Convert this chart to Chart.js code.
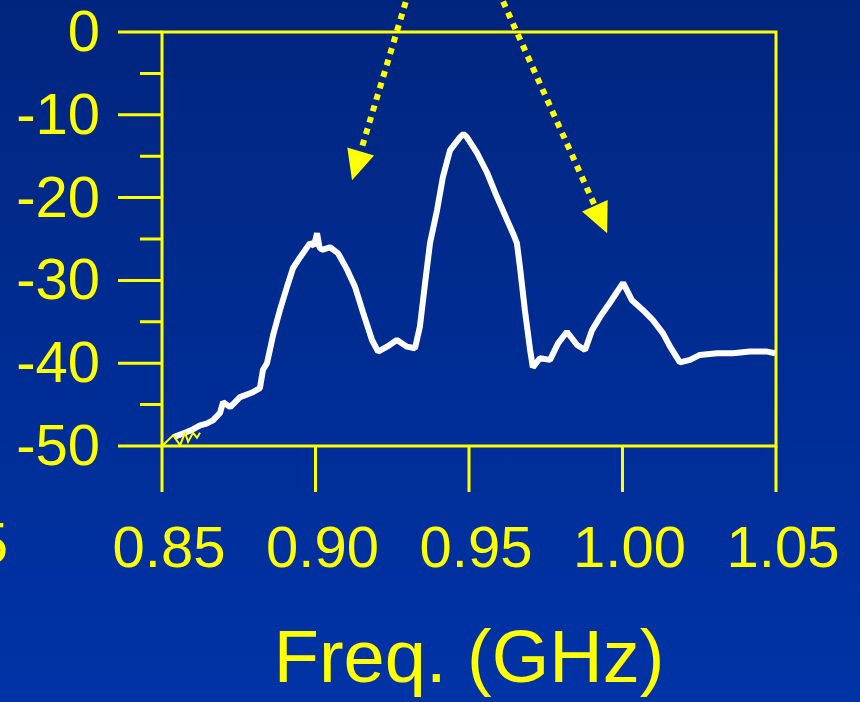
<!DOCTYPE html>
<html>
<head>
<meta charset="utf-8">
<script src="https://cdn.jsdelivr.net/npm/chart.js@4/dist/chart.umd.min.js"></script>
<style>
    html, body { margin: 0; padding: 0; }
    body {
        width: 860px; height: 702px; overflow: hidden;
        background: linear-gradient(to bottom, #00257e 0%, #002d95 55%, #0033a6 100%);
    }
    canvas { display: block; }
</style>
</head>
<body>
<canvas id="spectrumChart" width="860" height="702"></canvas>
<script>
// ==================== DATA ====================
// measured trace, frequency in GHz and level in dB
const freqs = [
    0.8540, 0.8581, 0.8600, 0.8624, 0.8645, 0.8666, 0.8689, 0.8699, 0.8722, 0.8754,
    0.8796, 0.8819, 0.8829, 0.8842, 0.8862, 0.8884, 0.8907, 0.8927, 0.8950, 0.8982,
    0.8995, 0.9005, 0.9013, 0.9021, 0.9047, 0.9073, 0.9103, 0.9129, 0.9155, 0.9184,
    0.9204, 0.9233, 0.9265, 0.9298, 0.9324, 0.9340, 0.9357, 0.9373, 0.9396, 0.9415,
    0.9438, 0.9471, 0.9482, 0.9493, 0.9526, 0.9559, 0.9591, 0.9624, 0.9643, 0.9656,
    0.9666, 0.9682, 0.9699, 0.9708, 0.9731, 0.9764, 0.9790, 0.9819, 0.9852, 0.9878,
    0.9901, 0.9927, 0.9959, 0.9982, 1.0002, 1.0031, 1.0067, 1.0099, 1.0132, 1.0155,
    1.0187, 1.0220, 1.0252, 1.0308, 1.0360, 1.0415, 1.0471, 1.0497
];
const levels = [
    -48.9, -48.3, -48.0, -47.5, -47.3, -46.9, -46.0, -44.7, -45.3, -44.1,
    -43.5, -43.0, -40.8, -40.0, -36.6, -33.6, -30.8, -28.5, -27.2, -25.5,
    -25.8, -24.3, -26.0, -26.3, -26.0, -26.7, -28.7, -30.8, -33.9, -37.2,
    -38.6, -38.0, -37.2, -38.0, -38.2, -35.6, -30.3, -25.5, -21.5, -17.5,
    -14.3, -12.7, -12.3, -12.7, -14.6, -17.0, -19.9, -22.7, -24.3, -25.5,
    -28.4, -33.6, -38.4, -40.5, -39.4, -39.6, -37.6, -36.2, -37.8, -38.4,
    -36.0, -34.4, -32.7, -31.4, -30.3, -32.4, -33.6, -34.8, -36.4, -38.0,
    -39.9, -39.6, -39.0, -38.8, -38.8, -38.6, -38.6, -38.8
];
// yellow start of the trace near the noise floor
const floorFreqs = [0.8503, 0.8536, 0.8559, 0.8575, 0.8585, 0.8601, 0.8614, 0.8624];
const floorLevels = [-49.9, -48.7, -49.9, -48.4, -49.5, -48.4, -49.0, -48.4];

// axis ranges and tick steps
const freqRange = [0.85, 1.05];
const freqStep = 0.05;
const levelRange = [-50, 0];
const levelStep = 5;
const xTitle = 'Freq. (GHz)';

// dotted arrows (start and tip, in GHz / dB)
const arrowStarts = [[0.9305, 5.0], [0.9595, 5.0]];
const arrowTips = [[0.9119, -17.9], [0.9950, -24.3]];

const YELLOW = '#ffff00';
const FONT = 'Liberation Sans, Arial, Helvetica, sans-serif';

// ==================== PLUGINS ====================
const frameTicks = {
    id: 'frameTicks',
    beforeDatasetsDraw(chart) {
        const ctx = chart.ctx;
        const a = chart.chartArea;
        const xs = chart.scales.x, ys = chart.scales.y;
        ctx.save();
        ctx.strokeStyle = YELLOW;
        ctx.lineWidth = 3;
        ctx.strokeRect(a.left, a.top, a.right - a.left, a.bottom - a.top);
        ctx.beginPath();
        ys.ticks.forEach(t => {
            const py = ys.getPixelForValue(t.value);
            const len = Math.round(t.value) % 10 === 0 ? 44 : 22;
            ctx.moveTo(a.left - len, py);
            ctx.lineTo(a.left, py);
        });
        xs.ticks.forEach(t => {
            const px = xs.getPixelForValue(t.value);
            ctx.moveTo(px, a.bottom);
            ctx.lineTo(px, a.bottom + 46);
        });
        ctx.stroke();
        // cut-off label from the neighbouring plot on the slide
        ctx.fillStyle = YELLOW;
        ctx.font = '58px ' + FONT;
        ctx.textAlign = 'right';
        ctx.textBaseline = 'middle';
        ctx.fillText('1.05', 8, 547);
        ctx.restore();
    }
};

const arrows = {
    id: 'arrows',
    afterDatasetsDraw(chart) {
        const ctx = chart.ctx;
        const xs = chart.scales.x, ys = chart.scales.y;
        ctx.save();
        ctx.strokeStyle = YELLOW;
        ctx.fillStyle = YELLOW;
        arrowStarts.forEach((s, i) => {
            const x0 = xs.getPixelForValue(s[0]), y0 = ys.getPixelForValue(s[1]);
            const x1 = xs.getPixelForValue(arrowTips[i][0]), y1 = ys.getPixelForValue(arrowTips[i][1]);
            const len = Math.hypot(x1 - x0, y1 - y0);
            const ux = (x1 - x0) / len, uy = (y1 - y0) / len;
            const headLen = 30, headHalf = 14;
            const bx = x1 - ux * headLen, by = y1 - uy * headLen;
            ctx.lineWidth = 6;
            ctx.setLineDash([6, 6]);
            ctx.beginPath();
            ctx.moveTo(x0, y0);
            ctx.lineTo(bx, by);
            ctx.stroke();
            ctx.setLineDash([]);
            ctx.beginPath();
            ctx.moveTo(x1, y1);
            ctx.lineTo(bx - uy * headHalf, by + ux * headHalf);
            ctx.lineTo(bx + uy * headHalf, by - ux * headHalf);
            ctx.closePath();
            ctx.fill();
        });
        ctx.restore();
    }
};

// ==================== CHART ====================
const canvas = document.getElementById('spectrumChart');
new Chart(canvas, {
    type: 'line',
    data: {
        datasets: [
            {
                label: 'floor',
                data: floorFreqs.map((f, i) => ({ x: f, y: floorLevels[i] })),
                borderColor: YELLOW,
                borderWidth: 2,
                pointRadius: 0,
                tension: 0,
                clip: false
            },
            {
                label: 'trace',
                data: freqs.map((f, i) => ({ x: f, y: levels[i] })),
                borderColor: '#ffffff',
                borderWidth: 6,
                pointRadius: 0,
                tension: 0,
                borderJoinStyle: 'bevel',
                clip: false
            }
        ]
    },
    options: {
        responsive: false,
        devicePixelRatio: 1,
        animation: false,
        layout: { padding: { left: 0, top: 32, right: 84, bottom: 0 } },
        plugins: {
            legend: { display: false },
            tooltip: { enabled: false }
        },
        scales: {
            x: {
                type: 'linear',
                min: freqRange[0],
                max: freqRange[1],
                grid: { display: false },
                border: { display: false },
                ticks: {
                    stepSize: freqStep,
                    color: YELLOW,
                    font: { family: FONT, size: 58, lineHeight: 1 },
                    padding: 68,
                    labelOffset: 7,
                    maxRotation: 0,
                    callback: v => v.toFixed(2)
                },
                title: {
                    display: true,
                    text: xTitle,
                    color: YELLOW,
                    font: { family: FONT, size: 74, lineHeight: 1.15 },
                    padding: { top: 0, bottom: -2 }
                },
                afterFit: scale => {
                    scale.height = 256;
                    scale.paddingLeft = 0;
                    scale.paddingRight = 0;
                }
            },
            y: {
                min: levelRange[0],
                max: levelRange[1],
                grid: { display: false },
                border: { display: false },
                ticks: {
                    stepSize: levelStep,
                    color: YELLOW,
                    font: { family: FONT, size: 58, lineHeight: 1 },
                    padding: 54,
                    labelOffset: 3,
                    autoSkip: false,
                    callback: v => (Math.round(v) % 10 === 0 ? String(Math.round(v)) : '')
                },
                afterFit: scale => {
                    scale.width = 162;
                    scale.paddingTop = 0;
                    scale.paddingBottom = 0;
                }
            }
        }
    },
    plugins: [frameTicks, arrows]
});
</script>
</body>
</html>
